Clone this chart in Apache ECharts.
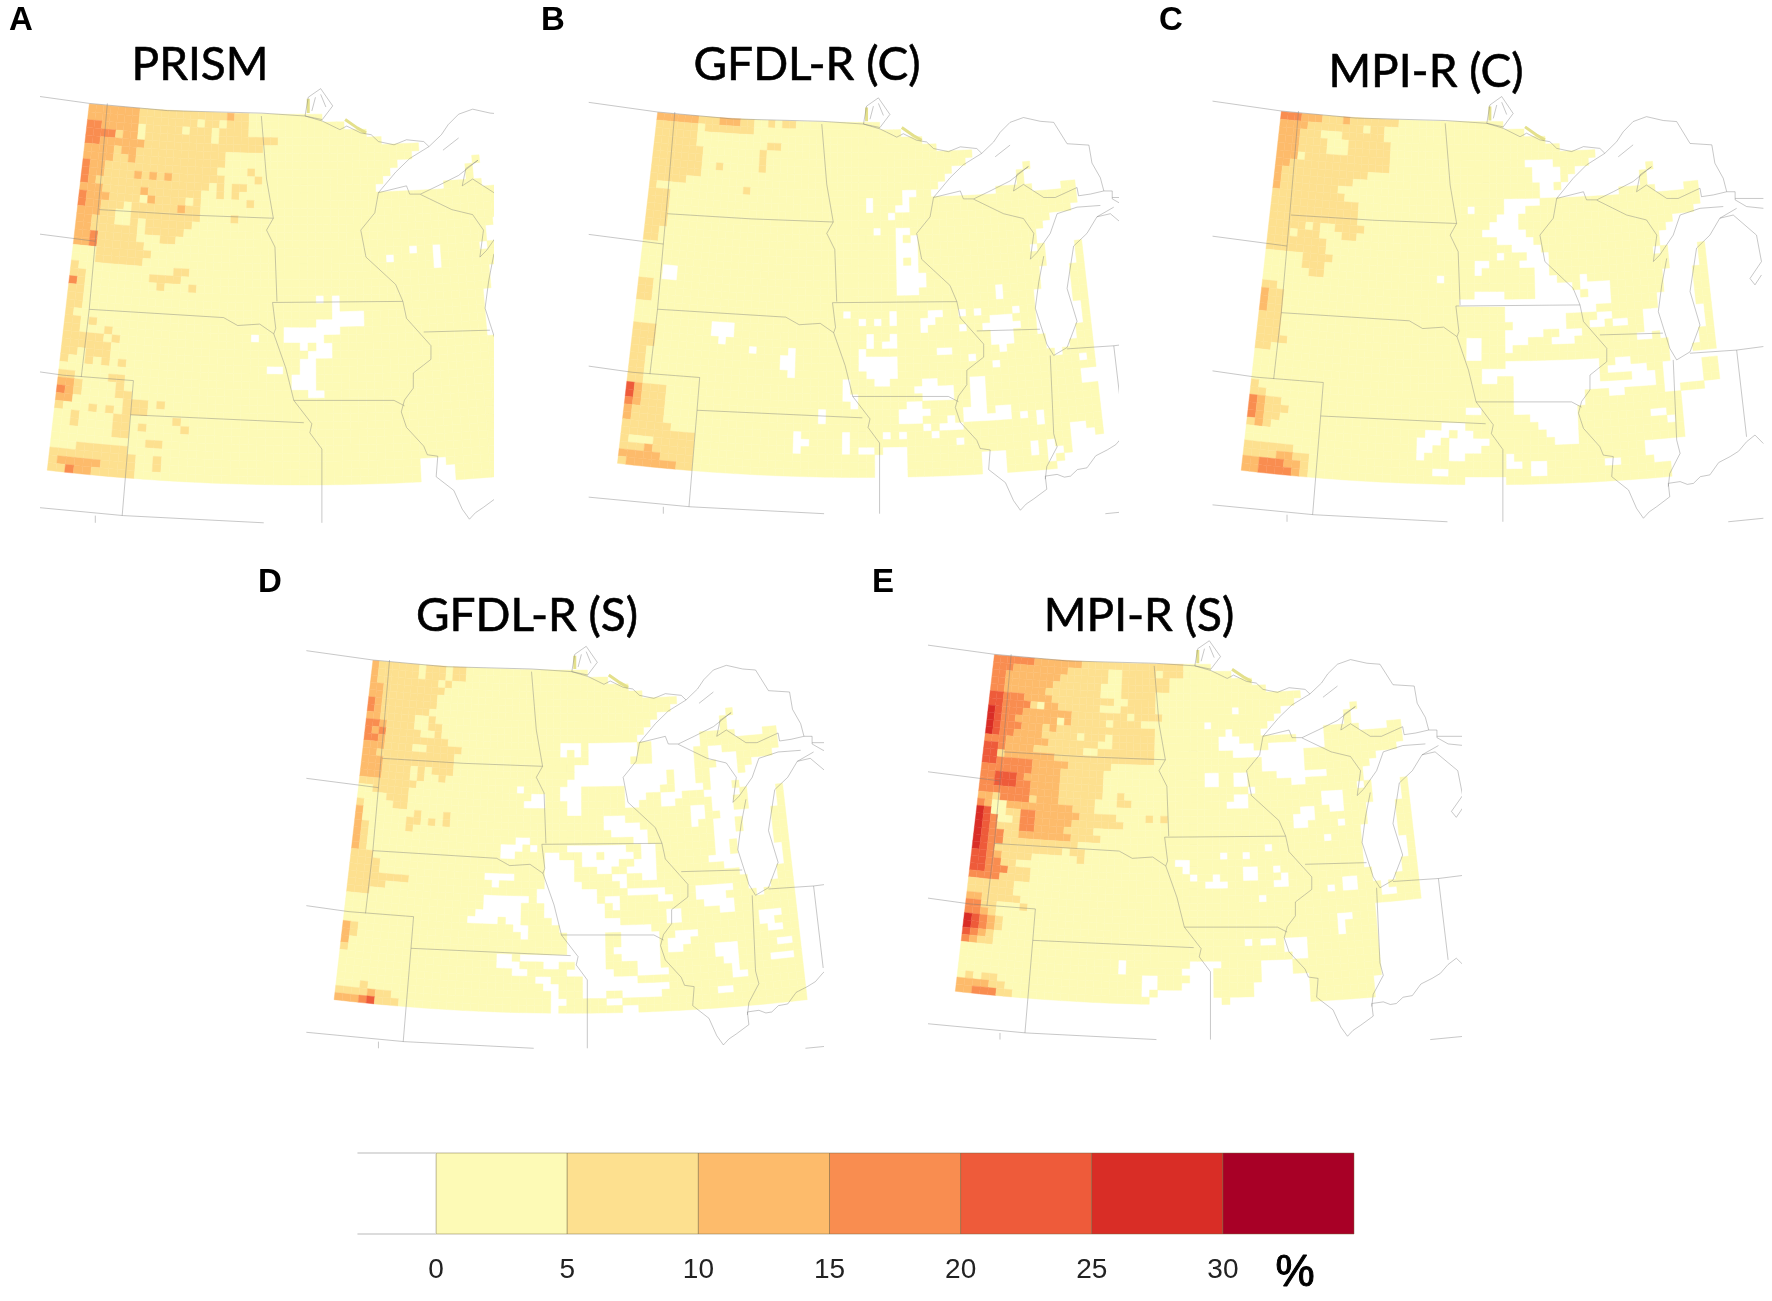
<!DOCTYPE html>
<html>
<head>
<meta charset="utf-8">
<title>Panels</title>
<style>html,body{margin:0;padding:0;background:#fff}#chart{width:1772px;height:1301px}</style>
<script src="https://cdn.jsdelivr.net/npm/echarts@6/dist/echarts.min.js"></script>
</head>
<body>
<div id="chart"></div>
<script>
// colour classes, % per class
var binEdges = [0, 5, 10, 15, 20, 25, 30, 35];
var tickLabels = [0, 5, 10, 15, 20, 25, 30];
var palette = ['#FDFAB6', '#FDE08F', '#FDBB6B', '#F98D50', '#EE5B3A', '#D92D26', '#A80026'];

var COLS = 59, ROWS = 47;

// one string per grid row, one digit (class) per column, rest of the row is class 0
var prismRows = [
'2222222111111111111211','2222222111111110110111','3322222011111011101111','33331220111111111011111111',
'332222221111111111111111','2222122111111111111','2222112111111111111','32211111111111111100001',
'322111121212111111100001','3211111111111111101011','222111112111111100101','32221111021111010000001',
'3221110111111211','222110011111111100001','221110010111111','22111111011111','2231111100011','223111111',
'0001111111','000111111','100000000000011','11000000001111','3100000000010001','11','11','11','1','1101',
'110001','1111101','111111','110111','10010101','0','11000011','22100001','321000011','2200000011101',
'10001010111','001000011000001','0010000110100001','000000011','0000000000011','000111111','1111111111001',
'1222221111001','1132211111'
];
var gfdlCRows = [
'22222211122211001011','11111101111111','111111','111111000000000011','1111111000000001','1111111000000001',
'1111111001000001','1111111','11111','10000000000001','111','111','111','111','111','11','11','0','0','0','0','0',
'11','11','11','0','0','0','111','111','111','11','11','11','11','11','42111','42111','32111','21111','21111',
'111111','111111111','100011111','111211111','222221111','122222211'
];
var mpiCRows = [
'33322211121111111','222211111111011','222111000111111','2221111000111111','2221111000111111','2220111111111111',
'2211111111111111','2111111111111','21111111111','211111111','1111111111','111111111111','111111111111','111111111111',
'1111101001111','111011100011','11111111','11111111','000001111','00000111','00000011','0','11','211','211','211',
'111','111','111','1111','11','0','0','0','0','1','11','3211','32111','3211','121','0','0','111111','11112211',
'22333221','22333321'
];
var gfdlSRows = [
'21111110111011','21111110111011','211111111101','22111111111','2211111111','3211111111','321111111','2211111001',
'33211110011','32311111001','332111111111','22211110011111','2211111111111','2221111111111','2221111010111',
'222111101001','11111111','0011111','0000111','1000011','2000000010001','2000000110101','21000001','21','21','21',
'111','1111','1111','11111111','11111','111','0','0','0','0','21','21','2','1','0','0','0','0','0001','1111211','22234111'
];
var mpiSRows = [
'3333332222222111111111111111','3332222222211111100111110111','33222222221111111001111111','33222222211111110001111111',
'332222221111111100011111','443332222111111111001111','443333102211111100011111','5433322222221111111101111',
'5433222222021111101111','543332221211111111111111','543322221111101110111111',
'333222222111111100111111','443222211111110011111111','441222222211111111111111',
'443333322222111111','33333332222111111','33444322222111111','33444332222111111','33333332222111111001',
'221333312221111100011','3200222222222111','54001133222222111110000101',
'54300133222221111111','5431113322221111','54331122222221111','54331111111111','543111111111011',
'443211110000001','443311','44333111','33331111','111111','111111','2211111','33110001','3321','54321',
'54321','4321','3211','0','0','0','0','01011','222211','2233311'
];

// cells with no data, [row, first column, last column]
var lakeGaps = [
[0,32,58],[1,35,58],[2,38,58],[3,40,58],[4,45,58],[5,44,58],[6,42,51],[6,53,58],[7,41,50],[7,52,58],[8,40,50],[8,52,58],
[9,39,47],[9,53,56],[12,58,58],[13,55,58],[14,54,58],[15,53,58],[16,53,58],[17,52,52],[17,54,57],[18,54,57],[19,54,57],
[20,53,56],[21,53,56],[22,53,56],[23,52,56],[24,52,56],[25,52,57],[26,52,57],[27,52,57],[28,52,56],[29,53,56],[30,53,55],[31,54,54]
];
var prismGaps = [
[17,43,43],[18,40,40],[17,46,46],[18,46,46],[19,46,46],[23,31,31],[23,33,33],[24,33,33],[25,33,36],[26,31,36],
[27,27,33],[28,27,31],[28,23,23],[29,29,29],[29,31,32],[30,30,32],[31,29,30],[32,25,26],[32,29,30],[33,28,30],
[34,28,30],[35,30,31],[44,43,45],[45,43,46],[46,43,46]
];
var gfdlCGaps = [
[10,30,30],[11,30,30],[9,35,36],[10,35,35],[11,34,35],[12,33,33],[14,31,31],[14,34,35],[15,34,34],[15,36,36],[16,34,35],
[16,36,36],[17,34,35],[17,36,36],[18,34,34],[18,36,36],[19,34,36],[20,34,37],[21,34,37],[22,34,36],[20,3,4],[21,3,4],
[27,10,12],[28,10,12],[29,11,11],[30,15,15],[30,20,20],[31,19,20],[32,19,20],[33,20,20],[38,24,24],[39,24,24],
[41,21,21],[42,21,22],[43,21,21],[41,27,27],[42,27,27],[43,27,27],[43,29,30],[43,32,34],[44,31,34],[45,31,34],[46,31,34],
[41,32,32],[41,34,34],[34,27,27],[35,27,27],[36,27,28],[37,28,28],[25,27,27],[26,29,29],[26,31,31],[25,33,33],[26,33,33],
[25,38,38],[26,37,38],[27,37,37],[25,39,39],[28,33,33],[29,32,33],[28,30,30],[29,30,30],[30,39,40],[30,29,29],[31,29,33],
[32,29,33],[33,30,33],[34,31,32],[31,43,43],[34,37,38],[35,36,40],[36,37,40],[34,43,44],[35,43,44],[36,43,44],[37,43,44],
[38,42,44],[38,46,47],[39,42,47],[37,35,36],[38,34,36],[39,34,36],[38,37,37],[39,40,40],[40,39,41],[42,41,41],[40,37,37],
[41,38,38],[26,46,48],[25,49,49],[27,45,49],[28,46,48],[29,46,48],[30,47,47],[25,44,44],[25,42,42],[27,42,42],[22,47,47],
[23,47,47],[32,46,46],[32,57,57],[34,57,58],[35,57,58],[39,51,51],[40,51,51],[39,49,49],[41,55,56],[42,55,57],[43,55,58],
[44,55,55],[43,50,50],[44,50,50],[43,52,52],[44,52,53],[45,52,52],[44,44,46],[45,44,46],[46,44,46],[44,56,58],[45,54,58],[46,53,58]
];
var mpiCGaps = [
[5,35,38],[6,36,39],[7,36,39],[8,37,38],[9,37,38],[10,32,36],[11,32,34],[11,27,27],[12,31,33],[13,30,33],[14,29,34],[15,31,35],
[16,33,36],[17,35,37],[17,31,31],[18,34,37],[18,28,29],[19,36,37],[19,28,28],[20,36,38],[20,23,23],[21,36,40],[22,28,31],[22,36,41],
[23,26,41],[20,42,42],[21,42,45],[22,43,45],[23,42,45],[24,42,43],[24,32,41],[25,32,39],[26,33,39],[27,32,36],[27,39,41],
[28,27,28],[28,32,34],[28,38,40],[29,27,28],[29,32,32],[30,27,28],[31,32,43],[32,29,43],[33,29,30],[33,33,43],[34,33,43],[35,33,41],
[36,33,41],[37,33,40],[38,35,40],[39,36,40],[40,37,40],[41,38,40],[37,27,28],[39,24,26],[40,22,24],[40,26,27],[41,21,23],[41,25,29],
[42,21,22],[42,25,28],[43,25,26],[43,21,21],[45,23,24],[46,27,31],[43,32,32],[44,32,33],[44,35,35],[45,35,35],[44,36,36],[45,36,36],
[25,44,45],[26,43,44],[26,46,47],[25,50,51],[26,50,51],[27,50,51],[28,49,50],[31,46,47],[32,45,47],[34,44,46],[35,45,46],[34,47,48],
[32,48,49],[33,48,50],[34,49,50],[32,52,53],[33,52,53],[34,52,53],[35,52,53],[31,53,53],[31,55,58],[32,54,56],[33,54,56],[34,54,56],
[35,57,58],[36,54,58],[37,54,58],[38,54,58],[39,54,58],[40,54,58],[41,54,58],[42,54,58],[43,54,58],[44,54,58],[45,54,58],[46,54,58],
[38,50,51],[39,52,52],[42,49,53],[43,49,53],[44,50,53],[45,52,53],[46,52,53],[44,44,45]
];
var gfdlSGaps = [
[10,28,30],[10,32,38],[11,28,28],[11,30,30],[11,32,38],[12,32,37],[13,30,36],[14,30,36],[15,29,36],[16,28,30],[16,22,22],[17,28,30],
[17,24,25],[18,23,25],[18,29,30],[19,29,30],[20,34,36],[21,34,38],[22,35,39],[23,38,39],[13,37,38],[14,37,38],[15,37,38],[16,37,39],
[17,37,39],[18,37,38],[10,41,47],[11,41,46],[11,49,50],[12,41,46],[12,49,52],[13,39,46],[13,50,52],[14,39,42],[14,44,46],[14,49,52],
[15,39,42],[15,44,46],[15,49,52],[16,40,41],[16,44,47],[16,49,51],[17,42,44],[17,48,51],[18,42,43],[18,49,51],[19,46,47],[19,49,51],
[20,46,47],[20,50,52],[21,46,46],[21,49,51],[22,49,51],[23,49,51],[24,49,50],[25,49,50],[26,48,51],[27,50,51],[23,22,23],[24,20,22],
[24,24,24],[25,20,21],[28,18,21],[24,29,36],[24,39,40],[25,26,27],[25,31,32],[25,34,37],[25,39,40],[26,26,29],[26,31,35],[26,38,40],
[27,26,29],[27,33,34],[27,37,40],[28,26,29],[28,35,36],[28,39,40],[29,19,19],[29,26,30],[29,36,36],[30,25,32],[30,37,41],[31,18,23],
[31,25,32],[31,34,35],[31,41,42],[32,18,22],[32,26,33],[32,35,35],[33,17,22],[33,26,33],[34,16,19],[34,21,22],[34,27,35],[35,22,23],
[35,28,39],[36,23,23],[36,29,33],[36,36,40],[37,29,33],[37,36,40],[38,29,33],[38,35,40],[39,20,21],[39,23,29],[39,30,33],[39,36,40],
[40,20,22],[40,26,27],[40,30,33],[40,38,40],[41,22,23],[41,29,34],[41,38,41],[42,25,26],[42,31,37],[43,26,27],[43,31,41],[44,27,27],
[44,31,33],[44,36,37],[44,38,40],[45,27,28],[45,34,35],[46,27,27],[46,36,37],[30,46,50],[31,46,49],[32,47,50],[33,49,50],[33,42,43],
[34,42,43],[36,43,45],[37,42,44],[38,42,43],[38,48,50],[39,48,50],[40,49,50],[41,50,50],[42,50,51],[34,54,56],[35,54,55],[36,55,56],
[40,55,57],[38,56,57],[44,48,49]
];
var mpiSGaps = [
[6,35,35],[8,31,31],[9,34,34],[10,33,35],[11,33,37],[12,35,38],[11,40,44],[12,39,44],[13,39,44],[14,39,44],[15,41,47],[16,43,44],
[15,31,32],[16,31,32],[15,35,36],[16,35,36],[17,37,37],[18,35,36],[19,34,36],[18,47,49],[19,47,49],[20,44,45],[20,48,49],[21,43,45],
[22,43,44],[22,49,49],[24,47,47],[27,27,28],[28,28,28],[26,33,33],[26,36,36],[25,39,39],[28,40,40],[28,36,37],[29,36,37],[29,32,32],
[30,31,33],[29,29,29],[29,41,41],[30,40,41],[32,38,38],[31,47,47],[30,49,50],[31,49,50],[35,48,49],[36,48,48],[37,48,48],[34,53,58],
[35,53,58],[36,53,58],[37,53,58],[38,53,58],[39,53,58],[40,53,58],[41,53,58],[42,53,58],[43,53,58],[44,52,58],[45,52,58],[46,52,58],
[32,54,55],[41,20,20],[42,20,20],[43,23,24],[44,23,24],[45,23,23],[41,29,31],[42,28,31],[43,29,31],[44,28,31],[45,25,31],[46,24,32],
[41,32,32],[38,36,36],[38,38,39],[41,38,41],[42,38,41],[43,38,43],[44,37,43],[45,37,43],[46,34,43],[38,41,43],[39,41,43],[40,42,43],
[10,44,47],[11,45,47]
];

// state lines, shores and graticule, in map units
var boundaries = [
[[75,297],[255,325],[450,345],[685,352],[793,360]],
[[75,680],[270,708]],
[[75,1062],[190,1080],[365,1095]],
[[75,1442],[340,1470],[690,1490]],
[[1425,1490],[1517,1480]],
[[300,325],[285,520],[270,708],[255,895],[235,1085]],
[[280,620],[500,635],[714,644]],
[[255,897],[590,920],[625,942],[680,938],[715,965]],
[[365,1095],[358,1190],[337,1470]],
[[358,1190],[790,1212]],
[[270,1470],[270,1490]],
[[684,360],[697,535],[714,644],[697,677],[718,724],[723,875]],
[[712,878],[1037,875]],
[[712,878],[720,950],[715,965],[745,1060],[765,1150],[810,1215],[805,1240],[835,1285]],
[[765,1150],[1015,1150],[1041,1165]],
[[835,1285],[835,1490]],
// Mississippi and Ohio
[[1037,875],[1046,922],[1107,998],[1107,1036],[1063,1074],[1059,1074],[1063,1116],[1041,1149],[1033,1182],[1046,1225],[1089,1277],[1098,1301],[1124,1305],[1120,1362],[1164,1400],[1185,1452],[1203,1480],[1218,1462],[1238,1447],[1272,1419],[1268,1381],[1299,1376],[1318,1384],[1334,1381],[1352,1362],[1377,1357],[1400,1322],[1430,1305],[1452,1290],[1473,1263],[1495,1244],[1517,1268]],
[[976,573],[967,629],[932,677],[945,752],[1019,828],[1037,875]],
[[1089,960],[1254,955]],
[[1081,578],[1159,620],[1211,634],[1238,677],[1229,752],[1246,733],[1281,677],[1299,620],[1351,601],[1412,596]],
// Lake Michigan
[[1264,743],[1251,818],[1242,894],[1272,998],[1290,1031],[1325,1008],[1351,932],[1325,837],[1342,714],[1377,677],[1403,629],[1447,601]],
[[1281,1031],[1290,1258],[1299,1296],[1272,1353],[1268,1390]],
[[1325,1012],[1447,1003],[1517,993]],
[[1447,1003],[1473,1249]],
// Lake Superior
[[793,360],[836,374],[880,398],[897,388],[932,407],[958,412],[976,431],[1015,440],[1046,426],[1089,431],[1102,445],[1133,412],[1150,384],[1176,355],[1211,341],[1255,352],[1290,355],[1325,417],[1382,421],[1390,473],[1412,516],[1421,554],[1443,554],[1443,577],[1473,596],[1517,601]],
[[1443,573],[1517,573]],
[[1102,445],[1054,478],[1019,516],[976,573],[1046,554],[1054,577],[1081,577],[1124,554],[1176,525],[1224,483],[1194,506],[1185,554],[1211,535],[1264,573],[1294,573],[1351,544],[1355,568],[1386,563],[1421,554]],
[[1137,455],[1176,421]],
// lower Michigan
[[1403,629],[1438,620],[1499,677],[1512,752],[1482,800],[1495,818],[1512,790]],
// Lake of the Woods
[[793,360],[801,308],[832,284],[862,332],[836,370],[793,360]],
[[819,308],[810,346]],
[[832,300],[845,335]]
];
// small pale islands along the northern border
var borderIslands = [[801,312],[801,352],['-','-'],[893,370],[923,393],[945,407]];

var panels = [
 {title:'PRISM', letter:'A', rows:prismRows, gaps:prismGaps, x0:89.3, y0:103.4, rx:.401, ry:.360, xMin:135, xMax:1261, tx:200, ty:65, lx:9, ly:21},
 {title:'GFDL-R (C)', letter:'B', rows:gfdlCRows, gaps:gfdlCGaps, x0:657.6, y0:112, rx:.3827, ry:.3448, xMin:75, xMax:1455, tx:807, ty:65, lx:541, ly:21},
 {title:'MPI-R (C)', letter:'C', rows:mpiCRows, gaps:mpiCGaps, x0:1281.3, y0:111, rx:.382, ry:.3526, xMin:72, xMax:1521, tx:1426, ty:72, lx:1159, ly:21},
 {title:'GFDL-R (S)', letter:'D', rows:gfdlSRows, gaps:gfdlSGaps, x0:372.9, y0:660, rx:.3697, ry:.3333, xMin:74, xMax:1471, tx:527, ty:616, lx:258, ly:583},
 {title:'MPI-R (S)', letter:'E', rows:mpiSRows, gaps:mpiSGaps, x0:994.4, y0:654.3, rx:.3725, ry:.3307, xMin:80, xMax:1507, tx:1139, ty:616, lx:872, ly:583}
];

function project(c, r) {
	var half = 535 + 105 * r / ROWS;
	var x = 790 + (c / COLS - 0.5) * 2 * half;
	var y = 355 + r * 1030 / ROWS - 1e-4 * (x - 790) * (x - 790);
	return [x, y];
}

function buildCells(rows, gaps) {
	var off = {};
	lakeGaps.concat(gaps).forEach(function (g) {
		for (var c = g[1]; c <= g[2]; c++) off[g[0] + '_' + c] = true;
	});
	var cells = [];
	for (var r = 0; r < ROWS; r++) {
		var row = (rows[r] || '').padEnd(COLS, '0');
		for (var c = 0; c < COLS; c++) {
			if (!off[r + '_' + c]) cells.push([c, r, +row[c]]);
		}
	}
	return cells;
}

function renderCell(params, api) {
	var c = api.value(0), r = api.value(1);
	var pts = [project(c, r), project(c + 1, r), project(c + 1, r + 1), project(c, r + 1)].map(function (p) {
		return api.coord(p);
	});
	var col = palette[api.value(2)];
	return {type: 'polygon', shape: {points: pts}, style: {fill: col, stroke: col, lineWidth: 0.4}};
}

var lineData = [];
boundaries.forEach(function (b) {
	lineData = lineData.concat(b);
	lineData.push(['-', '-']);
});

var grids = [], xAxes = [], yAxes = [], series = [], graphics = [];
panels.forEach(function (p, i) {
	grids.push({
		left: p.x0 + (p.xMin - 255) * p.rx,
		top: p.y0 + (270 - 325) * p.ry,
		width: (p.xMax - p.xMin) * p.rx,
		height: 1230 * p.ry
	});
	xAxes.push({type: 'value', gridIndex: i, min: p.xMin, max: p.xMax, show: false});
	yAxes.push({type: 'value', gridIndex: i, min: 270, max: 1500, inverse: true, show: false});
	series.push({
		type: 'custom', xAxisIndex: i, yAxisIndex: i, clip: true, silent: true,
		renderItem: renderCell, data: buildCells(p.rows, p.gaps), animation: false, z: 2
	});
	series.push({
		type: 'line', xAxisIndex: i, yAxisIndex: i, data: borderIslands, showSymbol: false, silent: true,
		connectNulls: false, clip: true, animation: false, z: 2,
		lineStyle: {color: '#e4e08c', width: 3}
	});
	series.push({
		type: 'line', xAxisIndex: i, yAxisIndex: i, data: lineData, showSymbol: false, silent: true,
		connectNulls: false, clip: true, animation: false, z: 3,
		lineStyle: {color: 'rgba(125,125,125,0.42)', width: 1}
	});
	graphics.push({type: 'text', x: p.tx, y: p.ty, style: {text: p.title, align: 'center', verticalAlign: 'middle', font: '46px Lato', fill: '#000', stroke: '#000', lineWidth: 0.6}});
	graphics.push({type: 'text', x: p.lx, y: p.ly, style: {text: p.letter, align: 'left', verticalAlign: 'middle', font: 'bold 33px "Liberation Sans"', fill: '#000'}});
});

// colour bar
grids.push({left: 305, top: 1153, width: 1049, height: 81});
xAxes.push({
	type: 'value', gridIndex: 5, min: -5, max: 35, interval: 5,
	axisLine: {show: false}, axisTick: {show: false}, splitLine: {show: false},
	axisLabel: {
		margin: 22, fontSize: 28, color: '#222', fontFamily: 'Liberation Sans',
		formatter: function (v) { return tickLabels.indexOf(v) >= 0 ? String(v) : ''; }
	}
});
yAxes.push({type: 'value', gridIndex: 5, min: 0, max: 1, show: false});
series.push({
	type: 'custom', xAxisIndex: 5, yAxisIndex: 5, silent: true, animation: false,
	data: palette.map(function (c, i) { return [binEdges[i], binEdges[i + 1], i]; }),
	renderItem: function (params, api) {
		var a = api.coord([api.value(0), 1]), b = api.coord([api.value(1), 0]);
		return {
			type: 'rect',
			shape: {x: a[0], y: a[1], width: b[0] - a[0], height: b[1] - a[1]},
			style: {fill: palette[api.value(2)], stroke: 'rgba(110,100,60,0.45)', lineWidth: 1}
		};
	}
});
series.push({
	type: 'line', xAxisIndex: 5, yAxisIndex: 5, showSymbol: false, silent: true, animation: false,
	data: [[-3, 1], [0, 1], ['-', '-'], [-3, 0], [0, 0]],
	lineStyle: {color: '#dcdcdc', width: 2}
});
graphics.push({type: 'text', x: 1295, y: 1274, style: {text: '%', align: 'center', verticalAlign: 'middle', font: '44px "Liberation Sans"', fill: '#000', stroke: '#000', lineWidth: 1}});

var myChart = echarts.init(document.getElementById('chart'), null, {renderer: 'canvas'});
myChart.setOption({
	backgroundColor: '#fff',
	animation: false,
	grid: grids,
	xAxis: xAxes,
	yAxis: yAxes,
	series: series,
	graphic: graphics
});
</script>
</body>
</html>
